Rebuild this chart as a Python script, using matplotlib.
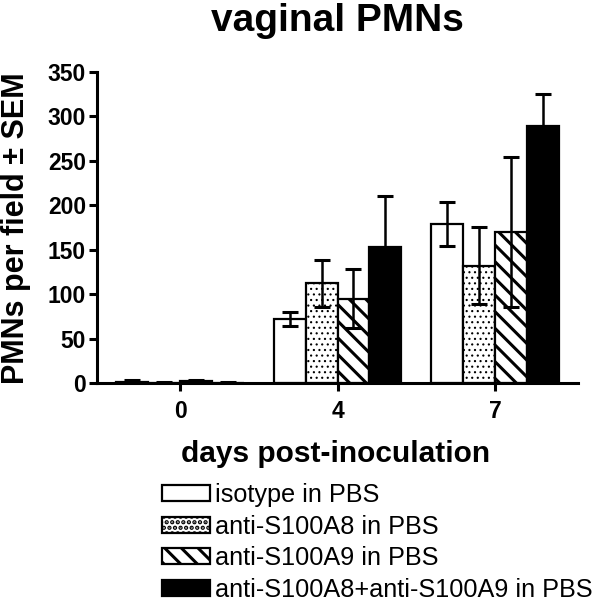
import matplotlib
matplotlib.use("Agg")
import matplotlib.pyplot as plt
import numpy as np
from matplotlib.patches import Patch

plt.rcParams['font.family'] = ['Liberation Sans', 'DejaVu Sans']
plt.rcParams['hatch.linewidth'] = 2.2

days = ["0", "4", "7"]
series_names = ["isotype in PBS", "anti-S100A8 in PBS", "anti-S100A9 in PBS",
                "anti-S100A8+anti-S100A9 in PBS"]
isotype = [1.5, 72, 179]
isotype_err = [1.5, 8, 25]
a8 = [0.5, 112, 132]
a8_err = [0.5, 26, 43]
a9 = [2, 95, 170]
a9_err = [1.5, 33, 84]
a8a9 = [0.5, 153, 289]
a8a9_err = [0.5, 57, 36]

values = [isotype, a8, a9, a8a9]
errors = [isotype_err, a8_err, a9_err, a8a9_err]
faces = ["white", "white", "white", "black"]
hatches = [None, "...", "\\\\", None]
hatch_lws = [2.2, 0.8, 2.2, 2.2]

fig = plt.figure(figsize=(6.0, 6.11), dpi=100)
ax = fig.add_axes([0.1617, 0.3732, 0.8016, 0.509])

x = np.arange(len(days))
w = 0.203
for i, (v, e, fc, h, hl) in enumerate(zip(values, errors, faces, hatches, hatch_lws)):
    pos = x + (i - 1.5) * w
    bars = ax.bar(pos, v, width=w, color=fc, edgecolor="black", linewidth=1.6, hatch=h, zorder=2)
    for b in bars:
        try:
            b.set_hatch_linewidth(hl)
        except Exception:
            pass
    ax.errorbar(pos, v, yerr=e, fmt="none", ecolor="black", elinewidth=1.8,
                capsize=6, capthick=2.2, zorder=3)

ax.set_xlim(-0.527, 2.527)
ax.set_ylim(0, 350)
ax.set_yticks(range(0, 351, 50))
ax.set_xticks(x)
ax.set_xticklabels(days)
for s in ["top", "right"]:
    ax.spines[s].set_visible(False)
for s in ["left", "bottom"]:
    ax.spines[s].set_linewidth(2.2)
ax.tick_params(axis="both", width=2.2, length=6, labelsize=16.5)
ax.tick_params(axis="x", pad=6)
ax.tick_params(axis="y", pad=2)
for lab in ax.get_xticklabels() + ax.get_yticklabels():
    lab.set_fontweight("bold")

fig.text(16 / 600, 1 - 228.5 / 611, "PMNs per field \u00b1 SEM", rotation=90,
         fontsize=22, fontweight="bold", ha="center", va="center")
fig.text(336 / 600, 1 - 462 / 611, "days post-inoculation", fontsize=21.5,
         fontweight="bold", ha="center", va="baseline")
fig.text(337 / 600, 1 - 31 / 611, "vaginal PMNs", fontsize=28,
         fontweight="bold", ha="center", va="baseline")

handles = []
for fc, h, hl in zip(faces, hatches, hatch_lws):
    p = Patch(facecolor=fc, edgecolor="black", linewidth=1.6, hatch=h)
    try:
        p.set_hatch_linewidth(hl)
    except Exception:
        pass
    handles.append(p)
leg = fig.legend(handles, series_names, loc="upper left", bbox_to_anchor=(0.253, 0.226),
                 frameon=False, fontsize=18.2, handlelength=1.9, handleheight=0.6,
                 handletextpad=0.2, labelspacing=0.3, borderaxespad=0)

fig.savefig("out.png", dpi=100)
